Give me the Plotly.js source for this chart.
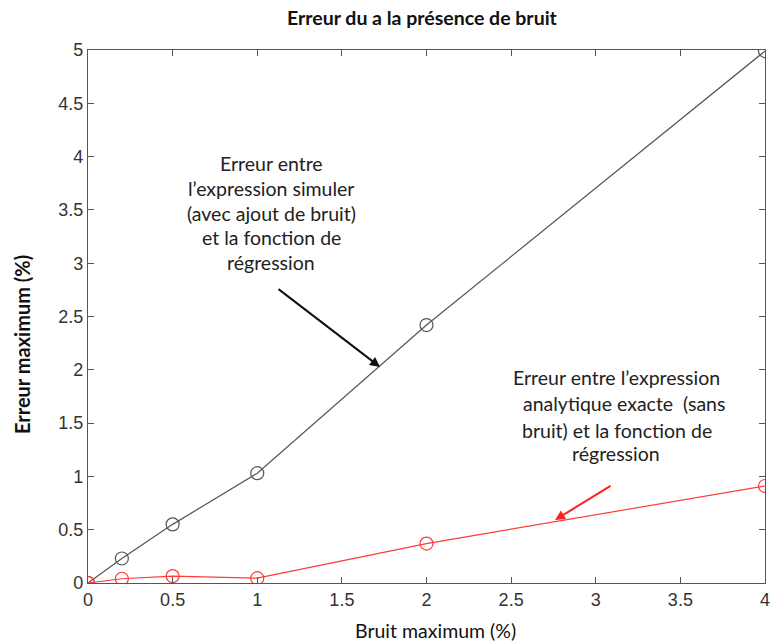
<!DOCTYPE html>
<html><head><meta charset="utf-8">
<script src="https://cdn.plot.ly/plotly-3.0.1.min.js"></script>
<style>body{margin:0;background:#fff}#c{width:770px;height:642px}</style>
</head><body><div id="c"></div>
<script>
const noise = [0, 0.2, 0.5, 1, 2, 4];
const errSimulated = [0, 0.23, 0.55, 1.03, 2.42, 4.99];
const errExact = [0, 0.04, 0.065, 0.045, 0.37, 0.91];
const xTicks = [0, 0.5, 1, 1.5, 2, 2.5, 3, 3.5, 4];
const yTicks = [0, 0.5, 1, 1.5, 2, 2.5, 3, 3.5, 4, 4.5, 5];
const label1 = ["Erreur entre", "l’expression simuler", "(avec ajout de bruit)", "et la fonction de", "régression"];
const label2 = ["Erreur entre l’expression", "analytique exacte  (sans", "bruit) et la fonction de", "régression"];
const xTitle = "Bruit maximum (%)";
const yTitle = "Erreur maximum (%)";
const chartTitle = "Erreur du a la présence de bruit";

const traces = [
  {x: noise, y: errSimulated, mode: 'lines+markers', line: {color: '#555', width: 1.2},
   marker: {symbol: 'circle-open', size: 13, color: '#555', line: {width: 1.2}}},
  {x: noise, y: errExact, mode: 'lines+markers', line: {color: '#ff3b3b', width: 1.2},
   marker: {symbol: 'circle-open', size: 13, color: '#ff3b3b', line: {width: 1.2}}}
];

// pixel -> data helpers (plot area 88..765 x, 50..583 y)
const px2x = p => (p - 88) / (677 / 4);
const px2y = p => (583 - p) / (533 / 5);
const F = 'Lato, sans-serif';
const ann = [];
const l1y = [163, 188, 213, 237, 262];
label1.forEach((t, i) => ann.push({x: px2x(271), y: px2y(l1y[i]), text: t, showarrow: false,
  xanchor: 'center', yanchor: 'middle', font: {family: F, size: 19.5, color: '#222'}}));
const l2x = [616, 624, 617, 616], l2y = [377, 403, 430, 453];
label2.forEach((t, i) => ann.push({x: px2x(l2x[i]), y: px2y(l2y[i]), text: t, showarrow: false,
  xanchor: 'center', yanchor: 'middle', font: {family: F, size: 19.5, color: '#222'}}));
ann.push({x: px2x(380), y: px2y(367), text: '', showarrow: true, ax: -103, ay: -79,
  arrowhead: 2, arrowsize: 1, arrowwidth: 2, arrowcolor: '#111'});
ann.push({x: px2x(555), y: px2y(520), text: '', showarrow: true, ax: 57, ay: -35,
  arrowhead: 2, arrowsize: 1, arrowwidth: 2, arrowcolor: '#ff2020'});
// axis titles placed as paper annotations
ann.push({xref: 'paper', yref: 'paper', x: (435 - 88) / 677, y: -(630 - 583) / 533, text: xTitle,
  showarrow: false, xanchor: 'center', yanchor: 'middle', font: {family: F, size: 19.5, color: '#111'}});
ann.push({xref: 'paper', yref: 'paper', x: -(88 - 22) / 677, y: (583 - 345) / 533, text: '<b>' + yTitle + '</b>',
  textangle: -90, showarrow: false, xanchor: 'center', yanchor: 'middle', font: {family: F, size: 20, color: '#111'}});

const axisCommon = {showgrid: false, zeroline: false, showline: true, linecolor: '#555', linewidth: 1.2,
  mirror: 'ticks', ticks: 'inside', ticklen: 6, tickcolor: '#555', ticklabeloverflow: 'allow',
  tickfont: {family: 'Liberation Sans, Arial, sans-serif', size: 18, color: '#333'}};

const layout = {
  width: 770, height: 642, showlegend: false,
  margin: {l: 88, r: 5, t: 50, b: 59},
  paper_bgcolor: '#fff', plot_bgcolor: '#fff',
  title: {text: '<b>' + chartTitle + '</b>', x: 0.548, xanchor: 'center', y: 0.972, yanchor: 'middle',
    font: {family: F, size: 19.5, color: '#111'}},
  xaxis: Object.assign({}, axisCommon, {range: [0, 4], tickvals: xTicks, ticktext: xTicks.map(String)}),
  yaxis: Object.assign({}, axisCommon, {range: [0, 5], tickvals: yTicks, ticktext: yTicks.map(String)}),
  annotations: ann
};
Plotly.newPlot('c', traces, layout, {displayModeBar: false, staticPlot: true});
</script></body></html>
